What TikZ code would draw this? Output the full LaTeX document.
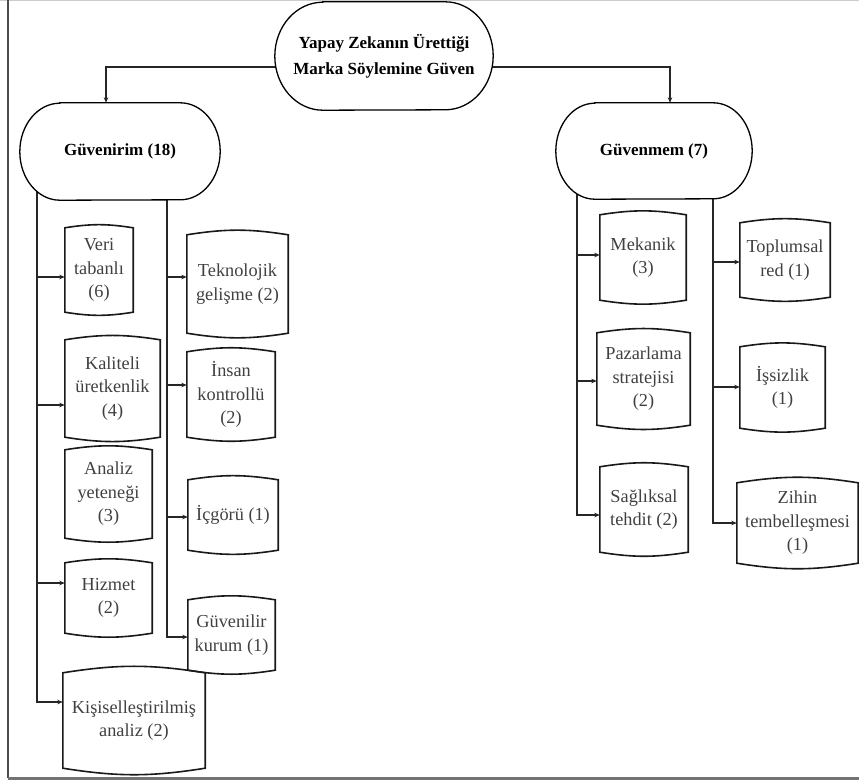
\documentclass[tikz,border=0pt]{standalone}
\usepackage{fontspec}
\setmainfont{Liberation Serif}
\usetikzlibrary{arrows.meta,calc,backgrounds}
\begin{document}
\begin{tikzpicture}[
  x=1pt,y=-1pt,
  stadtext/.style={inner sep=0pt, align=center,
    font=\bfseries\fontsize{17}{26}\selectfont},
  stadline/.style={draw=black, line width=1.3pt, fill=white},
  cbox/.style={inner sep=0pt, align=center, text=black!75,
    font=\fontsize{18.3}{23.5}\selectfont},
  conn/.style={line width=1.2pt, black!85},
  arr/.style={conn, -{Stealth[length=5.5pt,width=4.5pt]}},
  boxline/.style={line width=1.6pt, black!90}
]
\useasboundingbox (0,0) rectangle (859,782);
% frame
\draw[black!20, line width=1pt] (0,0.5) -- (859,0.5);
\draw[black!70, line width=1.5pt] (8,0) -- (8,778);
\draw[black!55, line width=3pt] (8,778) -- (859,778);

% main nodes
\node[stadtext, minimum width=218pt, minimum height=108pt] (root) at (384,56)
  {Yapay Zekanın Ürettiği\\Marka Söylemine Güven};
\node[stadtext, minimum width=200pt, minimum height=97pt] (g1) at (120,151.5) {Güvenirim (18)};
\node[stadtext, minimum width=196pt, minimum height=96pt] (g2) at (654,151) {Güvenmem (7)};

% boxes
\node[cbox, minimum width=68pt, minimum height=84pt] (veri) at (99,270) {Veri\\tabanlı\\(6)};
\node[cbox, minimum width=95pt, minimum height=97pt] (kalite) at (112.5,388.5) {Kaliteli\\üretkenlik\\(4)};
\node[cbox, minimum width=87pt, minimum height=88pt] (analiz) at (108.5,494) {Analiz\\yeteneği\\(3)};
\node[cbox, minimum width=87pt, minimum height=70pt] (hizmet) at (108.5,598) {Hizmet\\(2)};
\node[cbox, minimum width=142pt, minimum height=95pt] (kisi) at (134,720.5) {Kişiselleştirilmiş\\analiz (2)};
\node[cbox, minimum width=101pt, minimum height=98pt] (tekno) at (237.5,284) {Teknolojik\\gelişme (2)};
\node[cbox, minimum width=88pt, minimum height=85pt] (insan) at (231,394.5) {İnsan\\kontrollü\\(2)};
\node[cbox, minimum width=90pt, minimum height=70pt] (icgoru) at (233,515) {İçgörü (1)};
\node[cbox, minimum width=87pt, minimum height=70pt] (guvenilir) at (231.5,635) {Güvenilir\\kurum (1)};
\node[cbox, minimum width=86pt, minimum height=85pt] (mekanik) at (643,257.5) {Mekanik\\(3)};
\node[cbox, minimum width=93pt, minimum height=92pt] (pazar) at (643.5,379) {Pazarlama\\stratejisi\\(2)};
\node[cbox, minimum width=88pt, minimum height=85pt] (saglik) at (644,509.5) {Sağlıksal\\tehdit (2)};
\node[cbox, minimum width=90pt, minimum height=74pt] (toplum) at (785,260) {Toplumsal\\red (1)};
\node[cbox, minimum width=85pt, minimum height=81pt] (issiz) at (782.5,387.5) {İşsizlik\\(1)};
\node[cbox, minimum width=121pt, minimum height=80pt] (zihin) at (797.5,523) {Zihin\\tembelleşmesi\\(1)};

\foreach \n in {veri,kalite,analiz,hizmet,kisi,tekno,insan,icgoru,guvenilir,mekanik,pazar,saglik,toplum,issiz,zihin}
  \draw[boxline] (\n.south west) to[bend right=9] (\n.south east) -- (\n.north east)
     to[bend right=9] (\n.north west) -- cycle;

% branch coordinates
\coordinate (a1) at (106,0);
\coordinate (a2) at (670,0);
\coordinate (bL1) at (37,277);
\coordinate (bL2) at (37,405);
\coordinate (bL3) at (37,583);
\coordinate (bL4) at (37,702);
\coordinate (bI1) at (167,277);
\coordinate (bI2) at (167,385);
\coordinate (bI3) at (167,517);
\coordinate (bI4) at (167,637);
\coordinate (bR1) at (577,255);
\coordinate (bR2) at (577,381);
\coordinate (bR3) at (577,515);
\coordinate (bS1) at (713,262);
\coordinate (bS2) at (713,387);
\coordinate (bS3) at (713,523);

\begin{pgfonlayer}{background}
\draw[arr] ($(root.center)+(0,11)$) -| (g1.north -| a1);
\draw[arr] ($(root.center)+(0,11)$) -| (g2.north -| a2);

\draw[arr] (g1.center -| bL4) -- (bL4) -- (bL4 -| kisi.west);
\draw[arr] (bL1) -- (bL1 -| veri.west);
\draw[arr] (bL2) -- (bL2 -| kalite.west);
\draw[arr] (bL3) -- (bL3 -| hizmet.west);

\draw[arr] (g1.center -| bI4) -- (bI4) -- (bI4 -| guvenilir.west);
\draw[arr] (bI1) -- (bI1 -| tekno.west);
\draw[arr] (bI2) -- (bI2 -| insan.west);
\draw[arr] (bI3) -- (bI3 -| icgoru.west);

\draw[arr] (g2.center -| bR3) -- (bR3) -- (bR3 -| saglik.west);
\draw[arr] (bR1) -- (bR1 -| mekanik.west);
\draw[arr] (bR2) -- (bR2 -| pazar.west);

\draw[arr] (g2.center -| bS3) -- (bS3) -- (bS3 -| zihin.west);
\draw[arr] (bS1) -- (bS1 -| toplum.west);
\draw[arr] (bS2) -- (bS2 -| issiz.west);

% stadium outlines (filled, over the connector ends)
\draw[stadline] ($(root.north west)+(48,0)$) -- ($(root.north east)+(-48,0)$)
  arc[start angle=90, end angle=-90, x radius=48pt, y radius=54pt]
  -- ($(root.south west)+(48,0)$)
  arc[start angle=270, end angle=90, x radius=48pt, y radius=54pt] -- cycle;
\draw[stadline] ($(g1.north west)+(40,0)$) -- ($(g1.north east)+(-40,0)$)
  arc[start angle=90, end angle=-90, x radius=40pt, y radius=48.5pt]
  -- ($(g1.south west)+(40,0)$)
  arc[start angle=270, end angle=90, x radius=40pt, y radius=48.5pt] -- cycle;
\draw[stadline] ($(g2.north west)+(39,0)$) -- ($(g2.north east)+(-39,0)$)
  arc[start angle=90, end angle=-90, x radius=39pt, y radius=48pt]
  -- ($(g2.south west)+(39,0)$)
  arc[start angle=270, end angle=90, x radius=39pt, y radius=48pt] -- cycle;
\end{pgfonlayer}
\end{tikzpicture}
\end{document}
